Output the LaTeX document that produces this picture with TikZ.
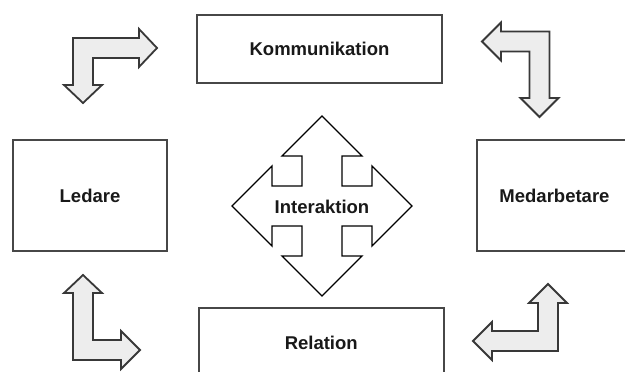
\documentclass[tikz,border=0pt]{standalone}
\usepackage{fontspec}
\setmainfont{Liberation Sans}
\begin{document}
\begin{tikzpicture}[x=1pt,y=-1pt,
  box/.style={draw=black!72,line width=2pt,fill=white,inner sep=0pt,
    font=\fontsize{18.5}{21}\selectfont\bfseries,text=black!90},
  bent/.style={draw=black!78,line width=1.8pt,fill=black!7,line join=miter},
  cross/.style={draw=black,line width=1.4pt,fill=white,line join=miter},
  lbl/.style={font=\fontsize{18.5}{21}\selectfont\bfseries,text=black!90,inner sep=0pt}]
\useasboundingbox (0,0) rectangle (625,372);
\clip (0,0) rectangle (625,372);
\fill[white] (0,0) rectangle (625,372);
% boxes
\node[box,minimum width=245pt,minimum height=68pt] (komm) at (319.5,49) {Kommunikation};
\node[box,minimum width=154pt,minimum height=111pt] (ledare) at (90,195.5) {Ledare};
\node[box,minimum width=155pt,minimum height=111pt] (medarb) at (554.5,195.5) {Medarbetare};
\node[box,minimum width=244.5pt,minimum height=69pt] (rel) at (321.25,342.5) {Relation};
% bent arrows
\draw[bent] (73,38) -- (139,38) -- (139,29) -- (157,48) -- (139,67) -- (139,58)
  -- (93,58) -- (93,85) -- (102,85) -- (83,103) -- (64,85) -- (73,85) -- cycle;
\draw[bent] (549.5,31.5) -- (549.5,98) -- (558.5,98) -- (539.5,117) -- (520.5,98)
  -- (529.5,98) -- (529.5,51.5) -- (501,51.5) -- (501,60.5) -- (482,41.5)
  -- (501,22.5) -- (501,31.5) -- cycle;
\draw[bent] (73,360) -- (73,293) -- (64,293) -- (83,275) -- (102,293) -- (93,293)
  -- (93,340) -- (121,340) -- (121,331) -- (140,350) -- (121,369) -- (121,360) -- cycle;
\draw[bent] (558,351) -- (558,303) -- (567,303) -- (548,284) -- (529,303) -- (538,303)
  -- (538,331) -- (492,331) -- (492,322) -- (473,341) -- (492,360) -- (492,351) -- cycle;
% four-way arrow
\begin{scope}[shift={(322,206)}]
\draw[cross] (20,-20) -- (20,-50) -- (40,-50) -- (0,-90) -- (-40,-50) -- (-20,-50)
  -- (-20,-20) -- (-50,-20) -- (-50,-40) -- (-90,0) -- (-50,40) -- (-50,20)
  -- (-20,20) -- (-20,50) -- (-40,50) -- (0,90) -- (40,50) -- (20,50)
  -- (20,20) -- (50,20) -- (50,40) -- (90,0) -- (50,-40) -- (50,-20) -- cycle;
\node[lbl] (inter) at (0,1) {Interaktion};
\end{scope}
\end{tikzpicture}
\end{document}
